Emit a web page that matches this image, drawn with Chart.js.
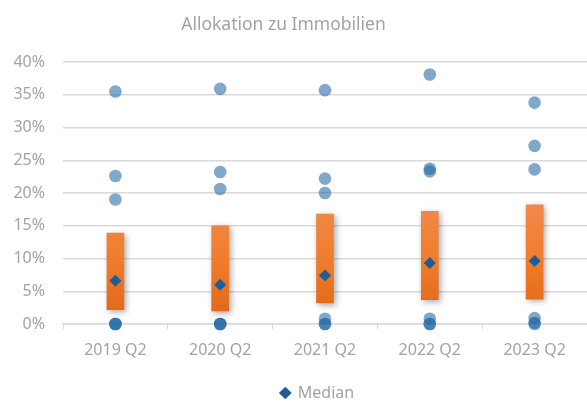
<!DOCTYPE html>
<html>
<head>
<meta charset="utf-8">
<script src="https://cdn.jsdelivr.net/npm/chart.js@4"></script>
<style>
html,body{margin:0;padding:0;background:#fff;}
#wrap{width:587px;height:403px;}
</style>
</head>
<body>
<div id="wrap"><canvas id="c" width="587" height="403"></canvas></div>
<script>
const categories = ['2019 Q2','2020 Q2','2021 Q2','2022 Q2','2023 Q2'];
const boxLow  = [2.2, 2.0, 3.2, 3.7, 3.8];
const boxHigh = [13.9, 15.0, 16.8, 17.2, 18.2];
const median  = [6.6, 6.0, 7.4, 9.3, 9.6];
const outMax  = [35.5, 35.9, 35.7, 38.1, 33.8];
const out2    = [22.6, 23.2, 22.2, 23.7, 27.2];
const out3    = [19.0, 20.6, 20.0, 23.3, 23.6];
const minA    = [0, 0, 0.8, 0.8, 0.9];
const minB    = [0, 0, 0, 0, 0.2];
const minC    = [0, 0, 0, 0, 0];
const yTicks  = [0, 5, 10, 15, 20, 25, 30, 35, 40];

const FONT = "'Noto Sans', sans-serif";
const TXT = '#a3a3a3';
const dotColor = 'rgba(35,105,165,0.58)';

function dotSet(arr){
  return {type:'line', label:'pts', data:arr, showLine:false,
    pointRadius:6.3, pointHoverRadius:6.3, pointBackgroundColor:dotColor,
    pointBorderWidth:0, borderColor:'transparent', order:2, clip:false};
}

const shadowPlugin = {
  id:'barShadow',
  afterLayout(chart){
    chart.titleBlock.left -= 22;
    chart.legend.left += 46;
  },
  beforeDatasetDraw(chart, args){
    if(args.meta.type==='bar'){
      chart.ctx.save();
      chart.ctx.shadowColor='rgba(0,0,0,0.35)';
      chart.ctx.shadowBlur=6;
      chart.ctx.shadowOffsetX=2;
      chart.ctx.shadowOffsetY=2;
    }
  },
  afterDatasetDraw(chart, args){
    if(args.meta.type==='bar') chart.ctx.restore();
  }
};

new Chart(document.getElementById('c'), {
  data:{
    labels:categories,
    datasets:[
      {type:'line', label:'Median', data:median, showLine:false,
        pointStyle:'rectRot', pointRadius:6, pointHoverRadius:6,
        pointBackgroundColor:'#1f5c99', pointBorderWidth:0, borderColor:'#1f5c99', order:0},
      {type:'bar', label:'box', data:categories.map((c,i)=>[boxLow[i], boxHigh[i]]),
        barThickness:17, borderSkipped:false, order:1,
        backgroundColor:(ctx)=>{
          const ch = ctx.chart; const ca = ch.chartArea;
          if(!ca) return '#ee7a2c';
          const y = ch.scales.y;
          const g = ch.ctx.createLinearGradient(0, y.getPixelForValue(18), 0, y.getPixelForValue(2));
          g.addColorStop(0,'#f0894a');
          g.addColorStop(0.5,'#f07d2c');
          g.addColorStop(1,'#e2691b');
          return g;
        }},
      dotSet(outMax), dotSet(out2), dotSet(out3), dotSet(minA), dotSet(minB), dotSet(minC)
    ]
  },
  options:{
    responsive:false, animation:false,
    layout:{autoPadding:false, padding:{left:0,right:-2,top:0,bottom:0}},
    plugins:{
      title:{display:true, text:'Allokation zu Immobilien', color:TXT,
        font:{family:FONT, size:17.5, weight:'normal'}, padding:{top:15,bottom:26}},
      legend:{display:true, position:'bottom', maxHeight:20,
        labels:{filter:(item)=>item.text==='Median', usePointStyle:true, pointStyle:'rectRot',
          boxWidth:9, boxHeight:9, color:TXT, font:{family:FONT, size:16}, padding:2}},
      tooltip:{enabled:false}
    },
    scales:{
      x:{
        offset:true,
        afterFit:(s)=>{s.height=59; s.paddingRight=0; s.paddingLeft=0;},
        grid:{display:true, drawOnChartArea:false, drawTicks:true, tickLength:5, color:'#d9d9d9', offset:true},
        border:{display:true, color:'#d9d9d9', width:1.5},
        ticks:{color:TXT, font:{family:FONT, size:16}, padding:12, maxRotation:0}
      },
      y:{
        min:0, max:40,
        afterFit:(s)=>{s.width=63;},
        afterBuildTicks:(s)=>{s.ticks = yTicks.map(v=>({value:v}));},
        grid:{color:'#d9d9d9', lineWidth:1.5, drawTicks:false},
        border:{display:false},
        ticks:{color:TXT, font:{family:FONT, size:16}, padding:18,
          callback:(v)=>v+'%'}
      }
    }
  },
  plugins:[shadowPlugin]
});
</script>
</body>
</html>
